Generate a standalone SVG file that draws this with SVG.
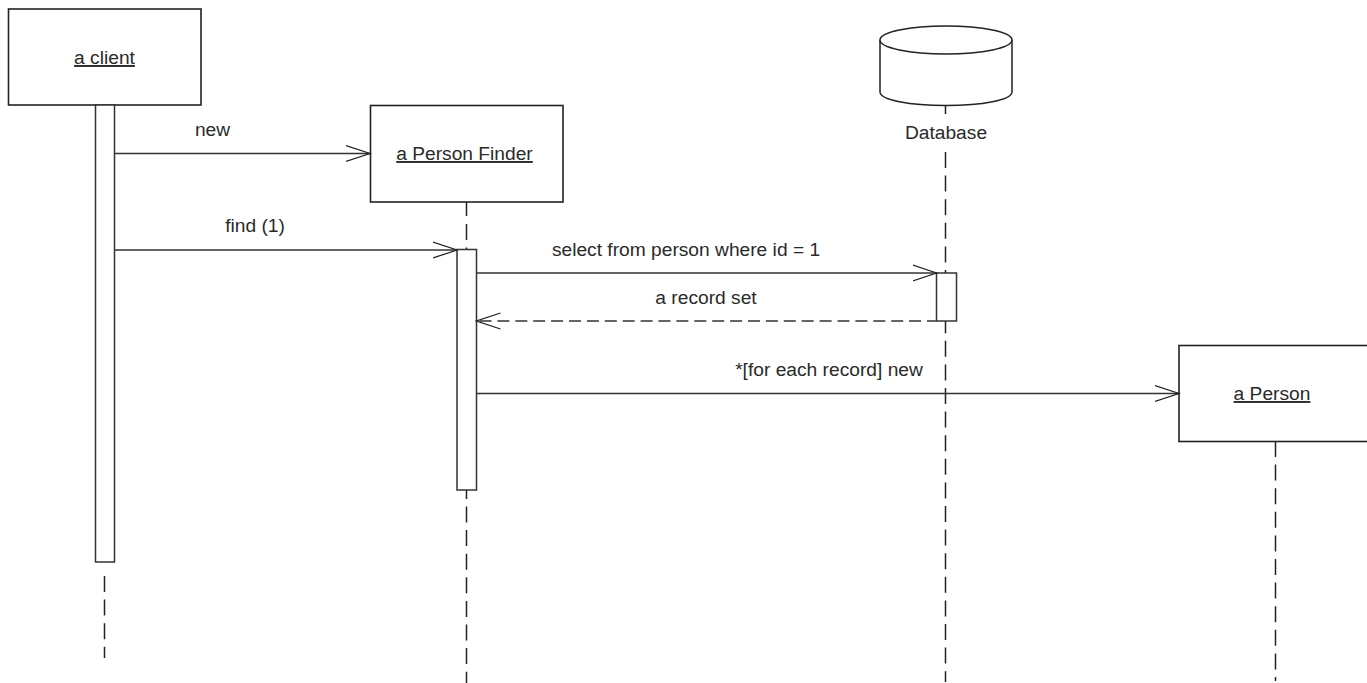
<svg xmlns="http://www.w3.org/2000/svg" width="1367" height="683" viewBox="0 0 1367 683">
<defs>
<marker id="open" markerUnits="userSpaceOnUse" markerWidth="26" markerHeight="20" refX="24" refY="10" orient="auto"><path d="M0 2L24 10L0 18" fill="none" stroke="#222" stroke-width="1.300"/></marker>
</defs>
<style>
text{font-family:"Liberation Sans",Arial,sans-serif;font-size:19.200px;fill:#2a2a2a;text-anchor:middle}
.box{fill:#fff;stroke:#222;stroke-width:1.600}
.act{fill:#fff;stroke:#333;stroke-width:1.500}
.life{fill:none;stroke:#222;stroke-width:1.500;stroke-dasharray:16 7.600}
.msg{fill:none;stroke:#333;stroke-width:1.300;marker-end:url(#open)}
.ret{stroke-dasharray:12 5.900;stroke-dashoffset:2.500}
.u{text-decoration:underline}
</style>
<rect width="1367" height="683" fill="#fff"/>
<g id="lifelines">
<path class="life" d="M104.500 576V658"/>
<path class="life" d="M466.500 202V216M466.500 224V250M466.500 490V499M466.500 506.500V683"/>
<path class="life" d="M945.500 106V114M945.500 152V682"/>
<path class="life" d="M1275.500 441V681"/>
</g>
<g id="client"><rect class="box" x="8.500" y="9" width="192.500" height="96"/><text class="u" x="104.500" y="64">a client</text></g>
<g id="client-activation"><rect class="act" x="95.500" y="105" width="19" height="457"/></g>
<g id="finder"><rect class="box" x="370.500" y="105.500" width="192.500" height="96.500"/><text class="u" x="464.500" y="160">a Person Finder</text></g>
<g id="finder-activation"><rect class="act" x="457" y="249.500" width="19.500" height="240.500"/></g>
<g id="database">
<path d="M880 40V92C880 100 910 105.500 946 105.500C982 105.500 1012 100 1012 92V40" fill="#fff" stroke="#222" stroke-width="1.500"/>
<ellipse cx="946" cy="40" rx="66" ry="14" fill="#fff" stroke="#222" stroke-width="1.500"/>
<text x="946" y="139">Database</text>
</g>
<g id="database-activation"><rect class="act" x="936.500" y="273" width="20" height="48"/></g>
<g id="person"><rect class="box" x="1179" y="345.500" width="192" height="96"/><text class="u" x="1272" y="400">a Person</text></g>
<g id="connectors">
<path class="msg" d="M114.500 153.500H370"/>
<path class="msg" d="M114.500 250H457"/>
<path class="msg" d="M476.500 273H936.500"/>
<path class="msg ret" d="M936.500 321H476.500"/>
<path class="msg" d="M476.500 393.500H1179"/>
</g>
<g id="labels">
<text x="212.500" y="136">new</text>
<text x="255" y="232">find (1)</text>
<text x="686" y="256">select from person where id = 1</text>
<text x="706" y="304">a record set</text>
<text x="829" y="376">*[for each record] new</text>
</g>
</svg>
